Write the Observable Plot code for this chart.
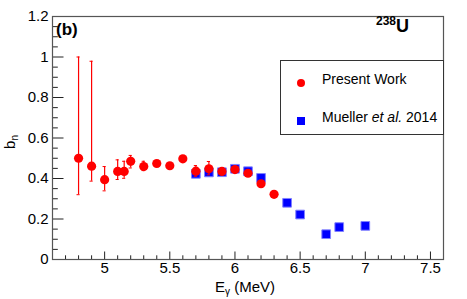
<!DOCTYPE html>
<html>
<head>
<meta charset="utf-8">
<script src="https://cdn.jsdelivr.net/npm/d3@7"></script>
<script src="https://cdn.jsdelivr.net/npm/@observablehq/plot@0.6"></script>
<style>
  html, body { margin: 0; padding: 0; background: #fff; }
  #wrap { position: relative; width: 467px; height: 299px; font-family: "Liberation Sans", Arial, Helvetica, sans-serif; color: #000; }
  #wrap svg { position: absolute; left: 0; top: 0; }
  .ov { position: absolute; white-space: nowrap; line-height: 1; }
</style>
</head>
<body>
<div id="wrap"></div>
<script>
// ---- data ----
const energyPW = [4.8, 4.9, 5.0, 5.1, 5.15, 5.2, 5.3, 5.4, 5.5, 5.6, 5.7, 5.8, 5.9, 6.0, 6.1, 6.2, 6.3];
const bnPW     = [0.500, 0.461, 0.394, 0.435, 0.435, 0.485, 0.459, 0.474, 0.463, 0.497, 0.436, 0.448, 0.435, 0.444, 0.426, 0.374, 0.322];
const errUpPW  = [0.500, 0.518, 0.065, 0.057, 0.050, 0.029, 0.026, 0, 0, 0, 0.028, 0.036, 0, 0, 0, 0, 0];
const errDnPW  = [0.180, 0.074, 0.055, 0.040, 0.034, 0.033, 0.020, 0, 0, 0, 0.025, 0.030, 0, 0, 0, 0, 0];

const energyMu = [5.7, 5.8, 5.9, 6.0, 6.1, 6.2, 6.4, 6.5, 6.7, 6.8, 7.0];
const bnMu     = [0.423, 0.430, 0.431, 0.448, 0.436, 0.403, 0.280, 0.222, 0.125, 0.160, 0.166];

const xTicks = [5, 5.5, 6, 6.5, 7, 7.5];
const yTicks = [0, 0.2, 0.4, 0.6, 0.8, 1, 1.2];
const xDomain = [4.6, 7.6];
const yDomain = [0, 1.2];

const seriesNames = ["Present Work", "Mueller et al. 2014"];

// ---- tables ----
const pw = energyPW.map((e, i) => ({e, b: bnPW[i], lo: bnPW[i] - errDnPW[i], hi: bnPW[i] + errUpPW[i], up: errUpPW[i], dn: errDnPW[i]}));
const mu = energyMu.map((e, i) => ({e, b: bnMu[i]}));
const xMinor = d3.range(47, 77).map(v => +(v / 10).toFixed(1)).filter(v => !xTicks.includes(v));
const yMinor = d3.range(0, 25).map(v => +(v * 0.05).toFixed(2)).filter(v => !yTicks.some(t => Math.abs(t - v) < 1e-9));

const W = 467, H = 299, mL = 52, mR = 24, mT = 16, mB = 40;
const innerW = W - mL - mR, innerH = H - mT - mB;
const red = "#ff0000", blue = "#0000ff";
const capHalf = 0.012;

const chart = Plot.plot({
  width: W, height: H,
  marginLeft: mL, marginRight: mR, marginTop: mT, marginBottom: mB,
  style: {fontFamily: "'Liberation Sans', Arial, Helvetica, sans-serif", fontSize: "15px", color: "#000", background: "#fff"},
  x: {domain: xDomain},
  y: {domain: yDomain},
  marks: [
    Plot.axisX({ticks: xTicks, tickSize: 0, tickPadding: 3, tickFormat: d => String(d), label: null, fontSize: 15}),
    Plot.axisY({ticks: yTicks, tickSize: 0, tickPadding: 4, tickFormat: d => String(d), label: null, fontSize: 15}),
    // inward ticks
    Plot.tickX(xTicks, {x: d => d, insetTop: innerH - 7.5, stroke: "#222"}),
    Plot.tickX(xMinor, {x: d => d, insetTop: innerH - 3.7, stroke: "#222"}),
    Plot.tickY(yTicks, {y: d => d, insetRight: innerW - 11.5, stroke: "#222"}),
    Plot.tickY(yMinor, {y: d => d, insetRight: innerW - 5.8, stroke: "#222"}),
    Plot.frame({stroke: "#555", strokeWidth: 1.2}),
    // Mueller et al. 2014
    Plot.dot(mu, {x: "e", y: "b", symbol: "square", r: 4.9, fill: blue, stroke: "#8080ff", strokeWidth: 1}),
    // Present work error bars
    Plot.ruleX(pw.filter(d => d.up > 0 || d.dn > 0), {x: "e", y1: "lo", y2: "hi", stroke: red, strokeWidth: 1.2}),
    Plot.ruleY(pw.filter(d => d.up > 0), {y: "hi", x1: d => d.e - capHalf, x2: d => d.e + capHalf, stroke: red, strokeWidth: 1}),
    Plot.ruleY(pw.filter(d => d.dn > 0), {y: "lo", x1: d => d.e - capHalf, x2: d => d.e + capHalf, stroke: red, strokeWidth: 1}),
    Plot.dot(pw, {x: "e", y: "b", r: 4.6, fill: red, stroke: "none"})
  ]
});

const wrap = document.getElementById("wrap");
wrap.appendChild(chart);

function ov(html, css) {
  const d = document.createElement("div");
  d.className = "ov";
  d.innerHTML = html;
  Object.assign(d.style, css);
  wrap.appendChild(d);
  return d;
}

// panel label and nucleus
ov("(b)", {left: "56px", top: "21px", fontSize: "17px", fontWeight: "bold"});
ov('<span style="font-size:12px;vertical-align:top;position:relative;top:-2px">238</span><span style="font-size:18px;font-weight:bold">U</span>', {left: "376px", top: "17px", fontWeight: "bold"});

// axis titles
ov('E<sub style="font-size:10px;vertical-align:-3px">γ</sub> (MeV)', {left: "215px", top: "279px", fontSize: "15px"});
ov('b<sub style="font-size:10px;vertical-align:-3px">n</sub>', {left: "4px", top: "133px", fontSize: "15px", transform: "rotate(-90deg)", transformOrigin: "center"});

// legend
const leg = ov("", {left: "280px", top: "60px", width: "162px", height: "73px", border: "1px solid #333", background: "#fff"});
const legItems = [
  {name: seriesNames[0], html: 'Present Work', sym: `<span style="display:inline-block;width:8px;height:8px;border-radius:50%;background:${red}"></span>`},
  {name: seriesNames[1], html: 'Mueller <i>et al.</i> 2014', sym: `<span style="display:inline-block;width:8px;height:8px;background:${blue}"></span>`}
];
legItems.forEach((it, i) => {
  const row = document.createElement("div");
  row.style.cssText = `position:absolute;left:16px;top:${i === 0 ? 11 : 49}px;font-size:14px;line-height:14px;white-space:nowrap;`;
  row.innerHTML = `<span style="position:absolute;left:0;top:3px">${it.sym}</span><span style="position:absolute;left:25px;top:0">${it.html}</span>`;
  leg.appendChild(row);
});
</script>
</body>
</html>
